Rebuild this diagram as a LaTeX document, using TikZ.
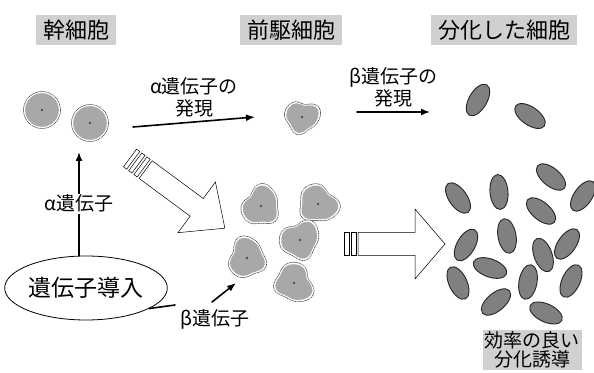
\documentclass[tikz,border=0pt]{standalone}
\usepackage{fontspec}
\setmainfont{Noto Sans CJK JP}
\usepackage{xcolor}
\usetikzlibrary{arrows.meta,shapes.geometric}
\definecolor{stipple}{RGB}{168,168,168}
\definecolor{ovalgray}{RGB}{128,128,128}
\definecolor{boxgray}{RGB}{208,208,208}

\tikzset{
  title/.style={fill=boxgray,inner xsep=7pt,inner ysep=5pt,font=\fontsize{22}{24}\selectfont},
  lbl/.style={font=\fontsize{19}{22}\selectfont,align=center},
  gene/.style={line width=1.6pt,-{Latex[length=9pt,width=7pt]}},
  block/.style={draw,line width=0.5pt,fill=white},
  rim/.style={draw=gray!60!black,densely dotted,line width=0.7pt,fill=white},
  core/.style={fill=stipple},
  oval/.style={draw=black!85,line width=0.9pt,fill=ovalgray},
}

\begin{document}
\begin{tikzpicture}[x=1pt,y=1pt,line cap=round]
  \useasboundingbox (0,0) rectangle (594,372);
  % headings
  \node[title] (stem) at (76,342) {幹細胞};
  \node[title] (prog) at (291,342) {前駆細胞};
  \node[title] (diff) at (504,342) {分化した細胞};

  % stem cells
  \foreach \n/\x/\y in {sc1/42/262,sc2/90/249} {
    \coordinate (\n) at (\x,\y);
    \draw[rim] (\n) circle (18.5);
    \fill[core] (\n) circle (16.8);
    \fill[black!70] (\n) circle (1.3);
  }

  % progenitor cells
  \foreach \n/\x/\y/\r/\s in {pc0/302/255/20/16.5,pc1/261/166/80/19,pc2/318/168/-15/19,
                              pc3/300/132/50/19,pc4/247/114/100/19,pc5/294/89/-40/19} {
    \coordinate (\n) at (\x,\y);
    \draw[rim,shift={(\n)},rotate=\r] plot[variable=\t,domain=0:354,samples=60,smooth cycle]
      (\t:{\s*(1+0.12*cos(3*\t)+0.07*cos(2*\t+30)+0.04*sin(5*\t))});
    \fill[core,shift={(\n)},rotate=\r] plot[variable=\t,domain=0:354,samples=60,smooth cycle]
      (\t:{(\s-1.8)*(1+0.12*cos(3*\t)+0.07*cos(2*\t+30)+0.04*sin(5*\t))});
    \fill[black!70] (\n) circle (1.3);
  }

  % differentiated cells
  \foreach \x/\y/\a in {478/272/60,530/256/-35,
                        458/174/-55,499/180/95,551/195/-40,583/176/55,541/161/-40,
                        507/136/100,466/127/60,543/117/110,567/128/55,490/104/-20,
                        458/89/-65,528/90/80,571/91/65,496/70/40,546/59/-25}
    \draw[oval,rotate around={\a:(\x,\y)}] (\x,\y) ellipse (17.5 and 9);

  % big arrows
  \begin{scope}[shift={(130,214)},rotate=-36.5]
    \foreach \s in {0,6.5,13} \draw[block] (\s,-11) rectangle ++(4,22);
    \draw[block] (19.5,-11) -- (83,-11) -- (83,-31.5) -- (118,0) -- (83,31.5) -- (83,11) -- (19.5,11) -- cycle;
  \end{scope}
  \begin{scope}[shift={(344,128)}]
    \foreach \s in {0,7} \draw[block] (\s,-11.5) rectangle ++(5,23);
    \draw[block] (14,-11.5) -- (71,-11.5) -- (71,-35) -- (101,0) -- (71,35) -- (71,11.5) -- (14,11.5) -- cycle;
  \end{scope}

  % gene expression
  \coordinate (aS) at (133,245);
  \coordinate (aE) at (255,255);
  \draw[gene] (aS) -- node[lbl,midway,above=1pt] {α遺伝子の\\発現} (aE);
  \coordinate (bS) at (357,260);
  \coordinate (bE) at (430,260);
  \draw[gene] (bS) -- node[lbl,midway,above=1pt] {β遺伝子の\\発現} (bE);

  % gene transfer
  \node[draw,ellipse,line width=0.8pt,minimum width=145,minimum height=64,inner sep=0pt,
        font=\fontsize{23}{25}\selectfont] (intro) at (86,84) {遺伝子導入};
  \coordinate (aT) at (79,220);
  \draw[gene] (aT |- intro.north) -- node[lbl,fill=white,inner sep=1pt] {α遺伝子} (aT);
  \coordinate (bL) at (175,67);
  \coordinate (bR) at (212,70);
  \coordinate (bT) at (236,89);
  \draw[line width=1.6pt] (intro.-18) -- (bL);
  \draw[gene] (bR) -- (bT);
  \node[lbl] (bgene) at (215,53) {β遺伝子};

  \node[fill=boxgray,inner sep=2pt,font=\fontsize{19}{19}\selectfont,align=center] (good) at (532,22) {効率の良い\\分化誘導};
\end{tikzpicture}
\end{document}
